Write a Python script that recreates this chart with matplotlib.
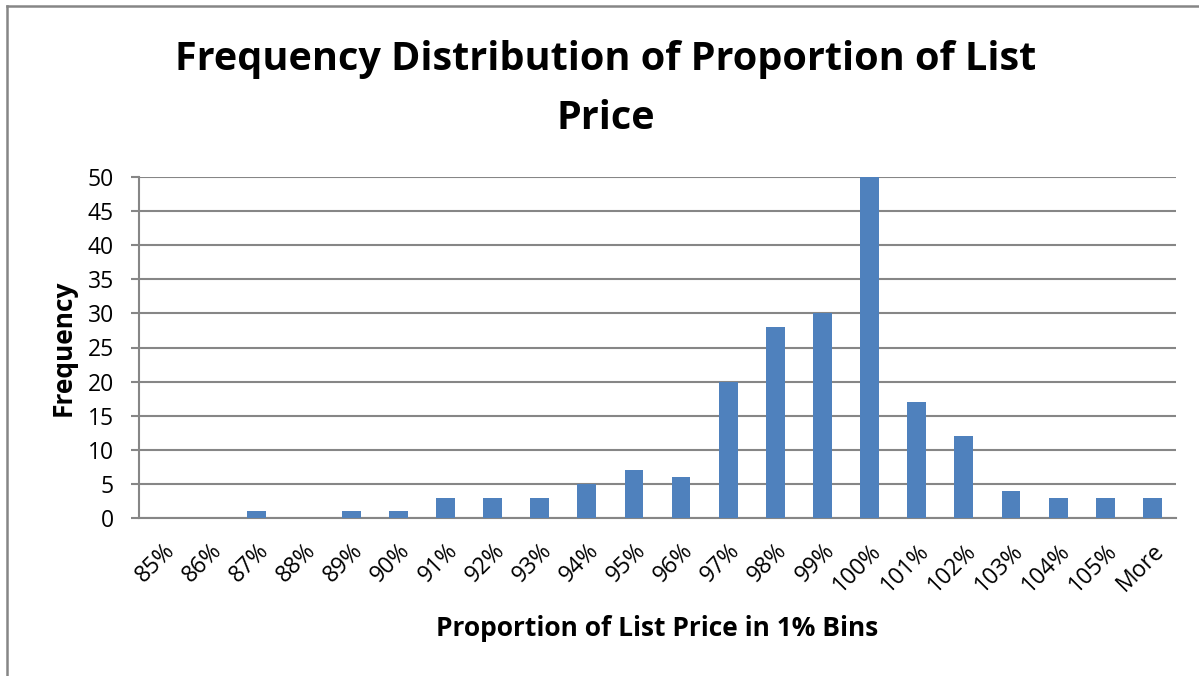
import matplotlib
matplotlib.use('Agg')
import matplotlib.pyplot as plt
from matplotlib.lines import Line2D

plt.rcParams['font.family'] = ['Open Sans', 'DejaVu Sans']

bins = ['85%', '86%', '87%', '88%', '89%', '90%', '91%', '92%', '93%', '94%', '95%',
        '96%', '97%', '98%', '99%', '100%', '101%', '102%', '103%', '104%', '105%', 'More']
freq = [0, 0, 1, 0, 1, 1, 3, 3, 3, 5, 7, 6, 20, 28, 30, 50, 17, 12, 4, 3, 3, 3]

W, H = 1199, 676
fig = plt.figure(figsize=(W / 100, H / 100), dpi=100)
ax = fig.add_axes([139 / W, 1 - 518 / H, (1176 - 139) / W, (518 - 177) / H])

x = range(len(bins))
ax.bar(x, freq, width=0.4, color='#4F81BD', zorder=3)
ax.set_xlim(-0.5, len(bins) - 0.5)
ax.set_ylim(0, 50)
ax.set_yticks(range(0, 51, 5))
ax.set_xticks(list(x))
ax.set_xticklabels(bins, rotation=45, ha='right', rotation_mode='anchor', fontsize=16.5)
ax.tick_params(axis='y', labelsize=16.5, length=6, width=1.5, color='#868686', pad=12)
ax.tick_params(axis='x', length=0, pad=15)
ax.grid(axis='y', color='#868686', linewidth=1.5, zorder=0)

for s in ['top', 'right']:
    ax.spines[s].set_visible(False)
for s in ['left', 'bottom']:
    ax.spines[s].set_color('#868686')
    ax.spines[s].set_linewidth(1.5)

ax.set_ylabel('Frequency', fontsize=19, fontweight='bold', labelpad=8)
ax.set_xlabel('Proportion of List Price in 1% Bins', fontsize=19, fontweight='bold', labelpad=13)
fig.text(606 / W, 1 - 89 / H, 'Frequency Distribution of Proportion of List\nPrice',
         ha='center', va='center', fontsize=28.5, fontweight='bold', linespacing=1.65)

# chart frame (only left and top visible in crop)
fig.add_artist(Line2D([7 / W, 7 / W], [0, 1 - 6 / H], color='#868686', linewidth=1.8))
fig.add_artist(Line2D([7 / W, 1], [1 - 6 / H, 1 - 6 / H], color='#868686', linewidth=1.8))

fig.savefig('out.png', dpi=100)
